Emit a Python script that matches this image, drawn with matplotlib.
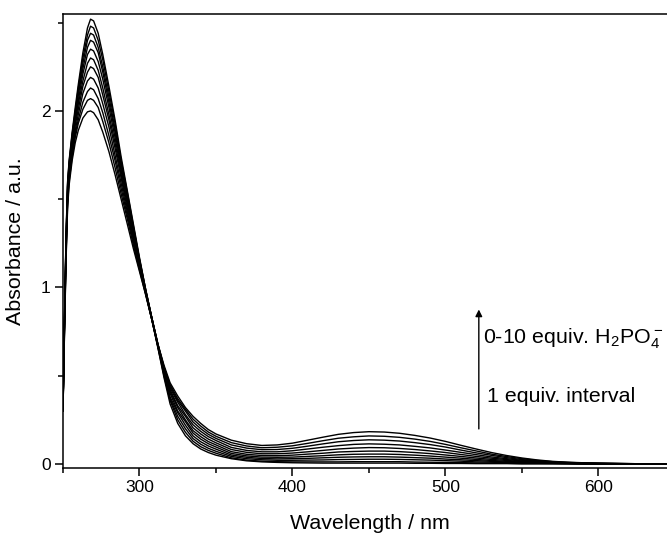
import matplotlib
matplotlib.use("Agg")
import matplotlib.pyplot as plt
from matplotlib.ticker import MultipleLocator

plt.rcParams['font.family'] = ['Liberation Sans', 'DejaVu Sans']

wavelength = [250, 251, 252, 253, 254, 256, 258, 260, 263, 266, 268, 270, 273, 276, 280,
              284, 288, 292, 296, 300, 304, 308, 312, 316,
              320, 325, 330, 335, 340, 345, 350, 360, 370, 380,
              390, 400, 410, 420, 430, 440, 450, 460, 470, 480,
              490, 500, 510, 520, 530, 540, 550, 560, 570, 580,
              590, 600, 620, 644]

# one spectrum per added equivalent of H2PO4- (0 ... 10)
equiv = list(range(11))
absorbance = [
    [0.30, 0.75, 1.15, 1.45, 1.58, 1.72, 1.82, 1.89, 1.96, 1.995, 2.00, 1.99, 1.95, 1.88, 1.77,
     1.64, 1.50, 1.36, 1.22, 1.09, 0.96, 0.82, 0.66, 0.49,
     .34, .23, .16, .115, .085, .065, .05, .03, .018, .012,
     .009, .007, .006, .005, .005, .005, .005, .005, .005, .004,
     .004, .003, .003, .002, .002, .002, .001, .001, .001, .001,
     0, 0, 0, 0],
    [0.30, 0.76, 1.17, 1.47, 1.60, 1.74, 1.85, 1.93, 2.01, 2.06, 2.07, 2.06, 2.02, 1.94, 1.82,
     1.68, 1.53, 1.39, 1.24, 1.10, 0.96, 0.82, 0.66, 0.50,
     .36, .25, .18, .129, .098, .077, .061, .035, .022, .016,
     .013, .012, .012, .012, .012, .013, .013, .013, .013, .011,
     .010, .009, .008, .006, .005, .004, .002, .002, .002, .001,
     0, 0, 0, 0],
    [0.30, 0.78, 1.19, 1.49, 1.62, 1.76, 1.87, 1.95, 2.05, 2.11, 2.13, 2.12, 2.07, 1.99, 1.86,
     1.72, 1.56, 1.41, 1.26, 1.11, 0.97, 0.82, 0.67, 0.51,
     .37, .27, .20, .144, .112, .089, .072, .043, .030, .024,
     .021, .021, .022, .023, .025, .026, .027, .027, .026, .024,
     .022, .019, .016, .012, .010, .008, .005, .004, .003, .002,
     .001, .001, 0, 0],
    [0.31, 0.79, 1.20, 1.50, 1.63, 1.78, 1.89, 1.98, 2.10, 2.17, 2.19, 2.18, 2.13, 2.04, 1.91,
     1.75, 1.59, 1.43, 1.27, 1.12, 0.97, 0.82, 0.67, 0.52,
     .38, .29, .22, .159, .126, .102, .084, .051, .038, .031,
     .029, .030, .032, .035, .038, .040, .041, .041, .039, .036,
     .033, .028, .024, .019, .015, .011, .008, .005, .004, .003,
     .001, .001, 0, 0],
    [0.31, 0.80, 1.22, 1.52, 1.65, 1.80, 1.92, 2.01, 2.14, 2.22, 2.25, 2.24, 2.19, 2.09, 1.95,
     1.79, 1.62, 1.45, 1.29, 1.13, 0.97, 0.82, 0.67, 0.52,
     .40, .30, .24, .175, .141, .115, .096, .060, .046, .039,
     .038, .039, .043, .047, .052, .055, .056, .056, .054, .050,
     .045, .039, .033, .026, .020, .015, .011, .007, .005, .004,
     .002, .001, .001, 0],
    [0.31, 0.81, 1.24, 1.54, 1.66, 1.81, 1.94, 2.04, 2.17, 2.27, 2.30, 2.29, 2.23, 2.13, 1.98,
     1.82, 1.64, 1.47, 1.30, 1.14, 0.98, 0.83, 0.67, 0.53,
     .41, .32, .25, .189, .155, .127, .108, .070, .055, .048,
     .047, .050, .056, .061, .068, .071, .073, .073, .070, .065,
     .059, .051, .043, .034, .026, .020, .014, .009, .006, .004,
     .003, .002, .001, 0],
    [0.31, 0.82, 1.25, 1.55, 1.67, 1.83, 1.95, 2.06, 2.21, 2.32, 2.35, 2.34, 2.28, 2.18, 2.02,
     1.85, 1.66, 1.49, 1.31, 1.14, 0.98, 0.83, 0.67, 0.54,
     .42, .33, .27, .205, .170, .141, .120, .082, .066, .058,
     .058, .062, .069, .077, .085, .090, .093, .092, .088, .082,
     .074, .065, .054, .043, .033, .025, .017, .012, .008, .005,
     .003, .002, .001, 0],
    [0.32, 0.83, 1.27, 1.57, 1.69, 1.84, 1.97, 2.09, 2.24, 2.36, 2.40, 2.39, 2.33, 2.22, 2.05,
     1.88, 1.68, 1.51, 1.33, 1.15, 0.98, 0.83, 0.68, 0.54,
     .43, .35, .28, .222, .185, .155, .133, .094, .077, .069,
     .069, .075, .085, .095, .104, .111, .114, .112, .108, .100,
     .091, .079, .066, .053, .040, .030, .021, .014, .010, .006,
     .004, .003, .001, 0],
    [0.32, 0.83, 1.28, 1.58, 1.70, 1.86, 1.99, 2.11, 2.27, 2.40, 2.44, 2.43, 2.36, 2.25, 2.08,
     1.90, 1.70, 1.52, 1.34, 1.16, 0.99, 0.83, 0.68, 0.55,
     .44, .36, .30, .238, .200, .168, .145, .108, .090, .081,
     .082, .089, .101, .114, .126, .133, .137, .135, .130, .121,
     .110, .096, .079, .063, .049, .036, .025, .017, .011, .008,
     .005, .004, .002, 0],
    [0.32, 0.84, 1.29, 1.59, 1.71, 1.87, 2.00, 2.13, 2.30, 2.43, 2.48, 2.47, 2.40, 2.29, 2.11,
     1.93, 1.72, 1.54, 1.35, 1.16, 0.99, 0.83, 0.68, 0.55,
     .45, .37, .31, .254, .215, .181, .157, .121, .102, .092,
     .095, .103, .117, .132, .146, .154, .159, .157, .151, .141,
     .128, .111, .092, .074, .056, .042, .030, .020, .013, .009,
     .006, .004, .002, 0],
    [0.32, 0.85, 1.30, 1.60, 1.72, 1.88, 2.02, 2.15, 2.33, 2.47, 2.52, 2.51, 2.44, 2.32, 2.14,
     1.95, 1.74, 1.55, 1.36, 1.17, 0.99, 0.83, 0.68, 0.56,
     .46, .385, .32, .27, .23, .195, .17, .135, .115, .105,
     .108, .118, .135, .152, .168, .178, .183, .181, .174, .162,
     .147, .128, .106, .085, .065, .048, .034, .023, .015, .010,
     .007, .005, .002, 0],
]

fig = plt.figure(figsize=(6.67, 5.38), dpi=100)
ax = fig.add_axes([63 / 667, 70 / 538, 604 / 667, 454.5 / 538])

for spectrum in absorbance:
    ax.plot(wavelength, spectrum, color='black', lw=1.0)

ax.set_xlim(250, 644.8)
ax.set_ylim(-0.0227, 2.552)

ax.xaxis.set_major_locator(MultipleLocator(100))
ax.xaxis.set_minor_locator(MultipleLocator(50))
ax.yaxis.set_major_locator(MultipleLocator(1))
ax.yaxis.set_minor_locator(MultipleLocator(0.5))
ax.tick_params(which='major', direction='out', length=6, width=1.1, labelsize=12.5, pad=3)
ax.tick_params(which='minor', direction='out', length=3.5, width=1.1)
ax.tick_params(top=False, right=False, which='both')

for side in ['left', 'bottom', 'top']:
    ax.spines[side].set_linewidth(1.1)
ax.spines['right'].set_visible(False)

ax.set_xlabel('Wavelength / nm', fontsize=15.4)
ax.set_ylabel('Absorbance / a.u.', fontsize=15.4)
ax.xaxis.set_label_coords((369.5 - 63) / 604, -(514 - 468) / 454.5)
ax.yaxis.set_label_coords(-(63 - 25) / 604, 0.5)

ax.annotate('', xy=(521.8, 0.891), xytext=(521.8, 0.183),
            arrowprops=dict(arrowstyle='-|>', color='black', lw=1.0, mutation_scale=10))
ax.text(524.4, 0.708, r'0-10 equiv. H$\mathregular{_2}$PO$\mathregular{_4^-}$',
        fontsize=15.4, ha='left', va='center')
ax.text(527.2, 0.381, '1 equiv. interval', fontsize=15.4, ha='left', va='center')

fig.savefig('out.png', dpi=100)
